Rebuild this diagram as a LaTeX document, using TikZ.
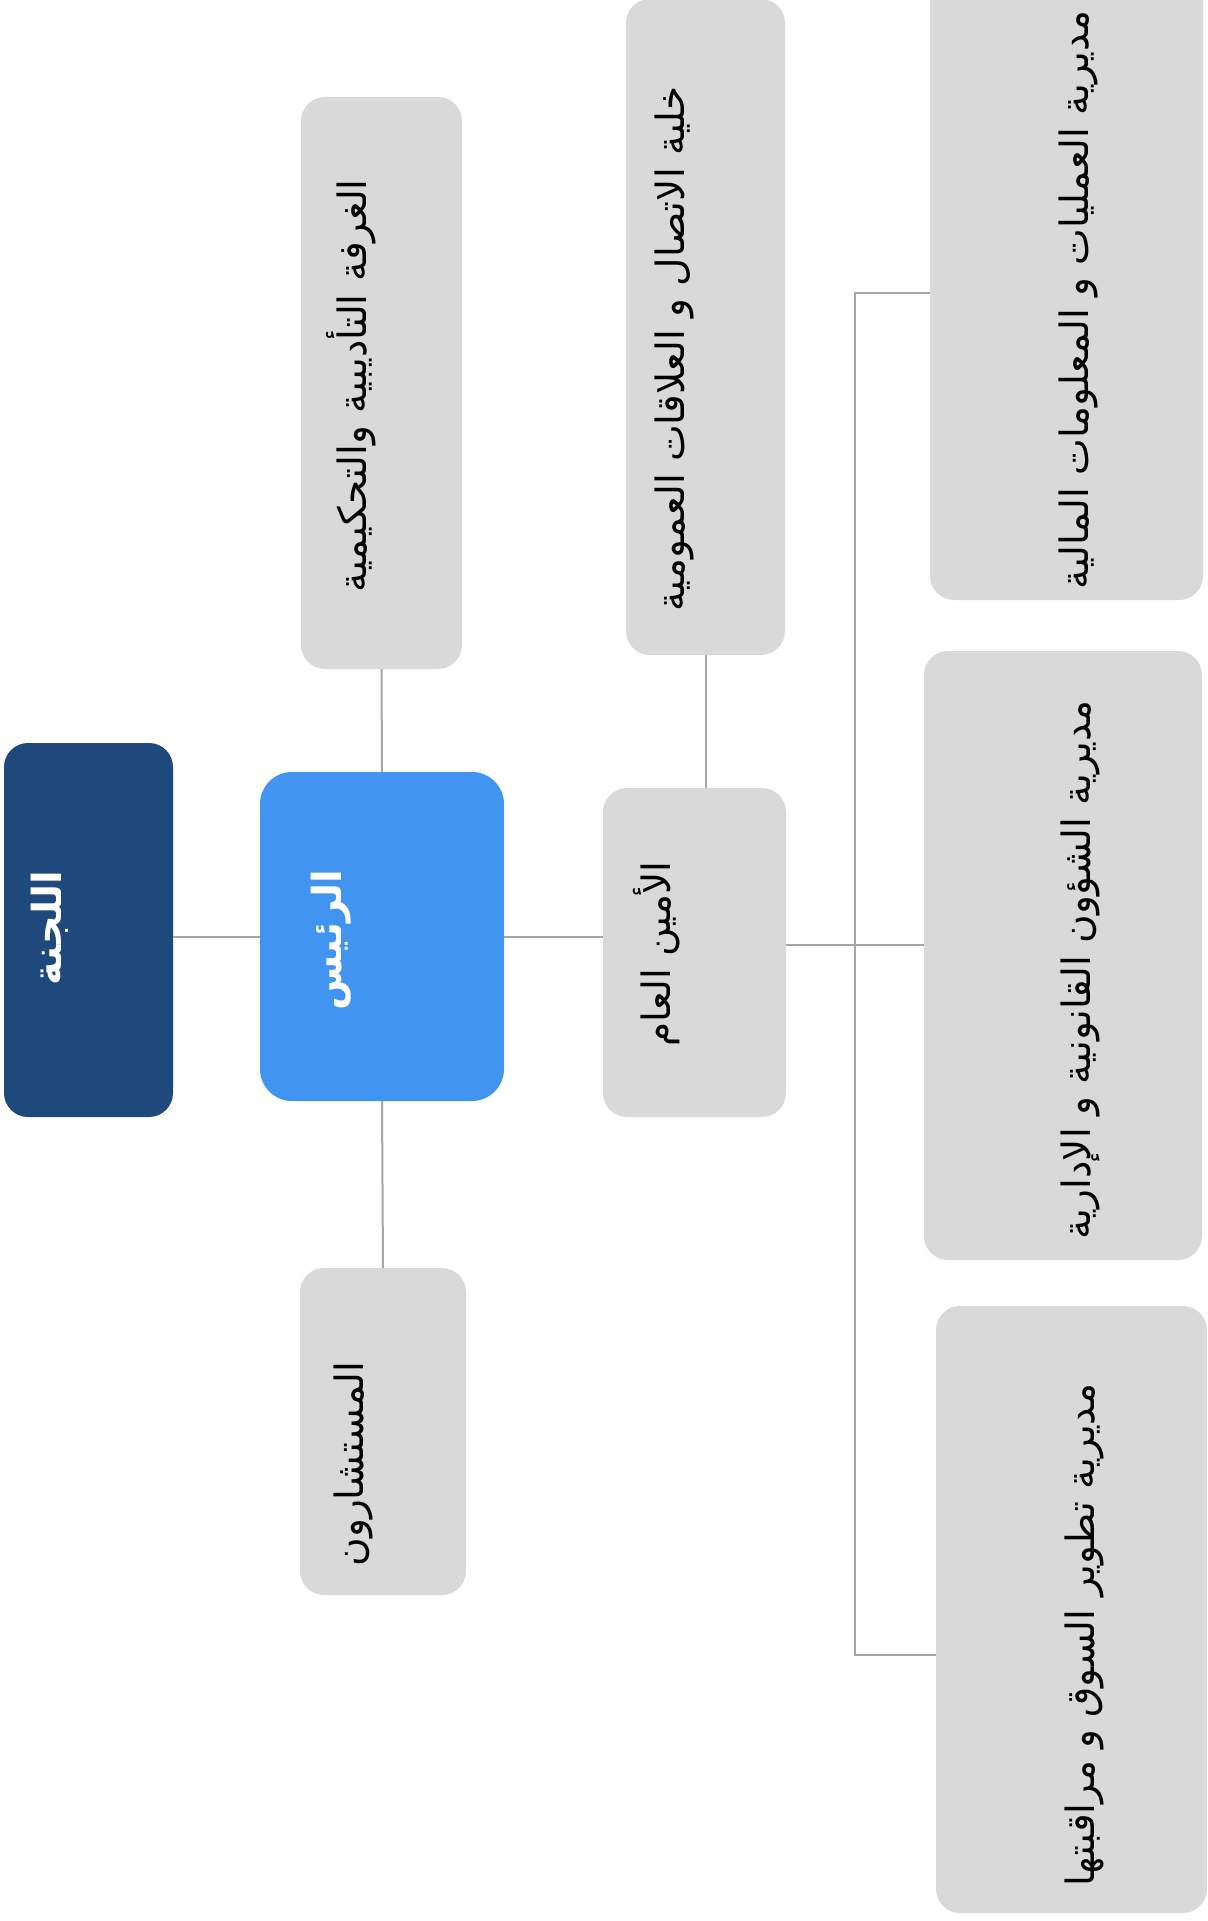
\documentclass[tikz,border=0pt]{standalone}
\usepackage{fontspec}
\newfontfamily\arabicfont[Script=Arabic]{DejaVu Sans}
\newfontfamily\arabicbold[Script=Arabic]{DejaVu Sans Bold}
\TeXXeTstate=1
\definecolor{navy}{RGB}{31,73,125}
\definecolor{skyblue}{RGB}{65,148,240}
\definecolor{boxgrey}{RGB}{217,217,217}
\definecolor{linegrey}{RGB}{166,166,166}
\tikzset{
  box/.style={inner sep=0pt, outer sep=0pt, rounded corners=12pt},
  greybox/.style={box, fill=boxgrey},
  txt/.style={rotate=90, inner sep=0pt, font=\fontsize{19.5}{23}\arabicfont, text=black},
  wtxt/.style={rotate=90, inner sep=0pt, font=\fontsize{20}{24}\arabicbold, text=white},
  conn/.style={draw=linegrey, line width=1pt}
}
\begin{document}
\begin{tikzpicture}[x=0.5pt,y=-0.5pt]
\useasboundingbox (0,0) rectangle (1208,1921);
% boxes
\node[box, fill=navy, minimum width=84.5pt, minimum height=187pt] (lajna) at (88.5,930) {};
\node[box, fill=skyblue, rounded corners=16pt, minimum width=122pt, minimum height=164.5pt] (rais) at (382,936.5) {};
\node[greybox, minimum width=91.5pt, minimum height=164.5pt] (amin) at (694.5,952.5) {};
\node[greybox, minimum width=80.5pt, minimum height=286pt] (ghurfa) at (381.5,383) {};
\node[greybox, minimum width=79.5pt, minimum height=328pt] (khaliya) at (705.5,327) {};
\node[greybox, minimum width=136.5pt, minimum height=330pt] (dir1) at (1066.5,270) {};
\node[greybox, minimum width=139pt, minimum height=304.5pt] (dir2) at (1063,955.5) {};
\node[greybox, minimum width=135.5pt, minimum height=303.5pt] (dir3) at (1071.5,1609.5) {};
\node[greybox, minimum width=83pt, minimum height=163.5pt] (must) at (383,1431.5) {};
% texts
\node[wtxt] (tlajna) at (50,928) {\beginR اللجنة\endR};
\node[wtxt] (trais) at (331,940) {\beginR الرئيس\endR};
\node[txt] (tamin) at (657,954) {\beginR الأمين العام\endR};
\node[txt] (tghurfa) at (351,386) {\beginR الغرفة التأديبية والتحكيمية\endR};
\node[txt] (tkhaliya) at (674,349) {\beginR خلية الاتصال و العلاقات العمومية\endR};
\node[txt] (tdir1) at (1078,300) {\beginR مديرية العمليات و المعلومات المالية\endR};
\node[txt] (tdir2) at (1080,970) {\beginR مديرية الشؤون القانونية و الإدارية\endR};
\node[txt] (tdir3) at (1084,1635) {\beginR مديرية تطوير السوق و مراقبتها\endR};
\node[txt] (tmust) at (353,1464) {\beginR المستشارون\endR};
% connectors
\coordinate (j) at (855,945);
\coordinate (b1) at (855,293);
\coordinate (b3) at (855,1655);
\draw[conn] (rais.west) -- (rais.west -| lajna.east);
\draw[conn] (rais.east) -- (rais.east -| amin.west);
\draw[conn] (rais.north) -- (ghurfa.south);
\draw[conn] (rais.south) -- (must.north);
\draw[conn] (khaliya.south) -- (khaliya.south |- amin.north);
\draw[conn] (j -| amin.east) -- (j -| dir2.west);
\draw[conn] (b1 -| dir1.west) -- (b1) -- (b3) -- (b3 -| dir3.west);
\end{tikzpicture}
\end{document}
